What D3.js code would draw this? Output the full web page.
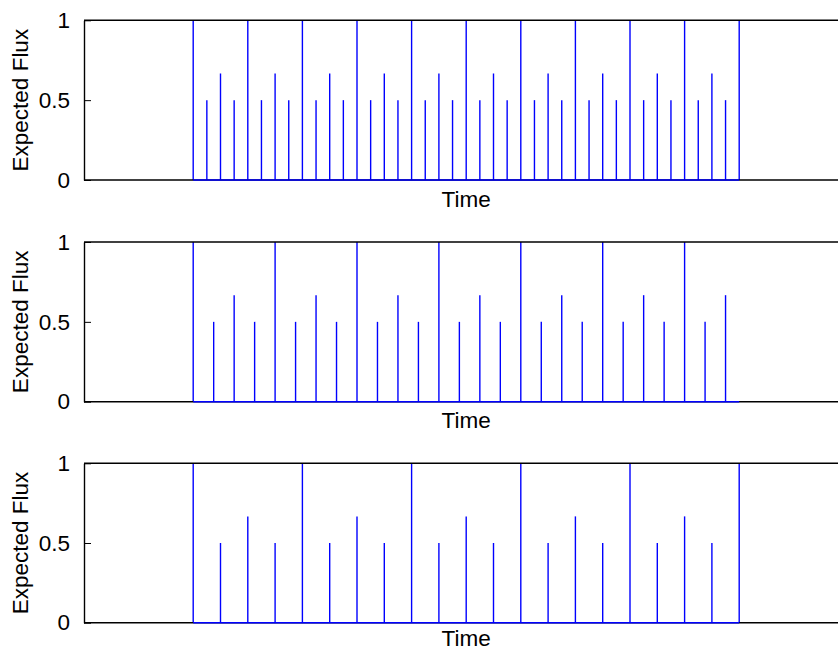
<!DOCTYPE html>
<html>
<head>
<meta charset="utf-8">
<script src="https://cdn.jsdelivr.net/npm/d3@7"></script>
<style>
  html, body { margin: 0; padding: 0; background: #fff; }
  svg { display: block; }
  text { font-family: "Liberation Sans", Arial, Helvetica, sans-serif; fill: #000; }
</style>
</head>
<body>
<svg id="chart" width="838" height="651"></svg>
<script>
// ---- data ----
const times1 = [8,9,10,11,12,13,14,15,16,17,18,19,20,21,22,23,24,25,26,27,28,29,30,31,32,33,34,35,36,37,38,39,40,41,42,43,44,45,46,47,48];
const flux1  = [1,0.5,0.667,0.5, 1,0.5,0.667,0.5, 1,0.5,0.667,0.5, 1,0.5,0.667,0.5, 1,0.5,0.667,0.5,
                1,0.5,0.667,0.5, 1,0.5,0.667,0.5, 1,0.5,0.667,0.5, 1,0.5,0.667,0.5, 1,0.5,0.667,0.5, 1];
const times2 = [8,9.5,11,12.5,14,15.5,17,18.5,20,21.5,23,24.5,26,27.5,29,30.5,32,33.5,35,36.5,38,39.5,41,42.5,44,45.5,47];
const flux2  = [1,0.5,0.667,0.5, 1,0.5,0.667,0.5, 1,0.5,0.667,0.5, 1,0.5,0.667,0.5, 1,0.5,0.667,0.5,
                1,0.5,0.667,0.5, 1,0.5,0.667];
const times3 = [8,10,12,14,16,18,20,22,24,26,28,30,32,34,36,38,40,42,44,46,48];
const flux3  = [1,0.5,0.667,0.5, 1,0.5,0.667,0.5, 1,0.5,0.667,0.5, 1,0.5,0.667,0.5, 1,0.5,0.667,0.5, 1];
const baselineRange = [8, 48];
const xDomain = [0, 56];
const yDomain = [0, 1];
const yTicks = [0, 0.5, 1];
const yTickLabels = ["0", "0.5", "1"];
const xLabel = "Time";
const yLabel = "Expected Flux";

const panels = [
  { times: times1, flux: flux1, top: 20.3, bottom: 180 },
  { times: times2, flux: flux2, top: 242, bottom: 401.7 },
  { times: times3, flux: flux3, top: 463.3, bottom: 622.7 }
];

// ---- drawing ----
const svg = d3.select("#chart");
const H = 651;
const left = 84;
const x = d3.scaleLinear().domain(xDomain).range([left, left + 56 * 13.65]);
const blue = "#0000ff";
const fontSize = 22.5;

panels.forEach(p => {
  const y = d3.scaleLinear().domain(yDomain).range([p.bottom, p.top]);
  const g = svg.append("g");

  // stems
  g.selectAll("line.stem")
    .data(p.times.map((t, i) => ({ t, v: p.flux[i] })))
    .enter().append("line")
    .attr("class", "stem")
    .attr("x1", d => x(d.t)).attr("x2", d => x(d.t))
    .attr("y1", y(0)).attr("y2", d => y(d.v))
    .attr("stroke", blue).attr("stroke-width", 1.4);

  // axes box: top line, bottom axis
  const x0 = x.range()[0], x1 = x.range()[1];
  g.append("line").attr("x1", x0).attr("x2", x1).attr("y1", y(1)).attr("y2", y(1))
    .attr("stroke", "#000").attr("stroke-width", 1.4);
  g.append("line").attr("x1", x0).attr("x2", x1).attr("y1", y(0)).attr("y2", y(0))
    .attr("stroke", "#000").attr("stroke-width", 1.4);

  // stem baseline
  g.append("line")
    .attr("x1", x(baselineRange[0])).attr("x2", x(baselineRange[1]))
    .attr("y1", y(0)).attr("y2", y(0))
    .attr("stroke", blue).attr("stroke-width", 1.5);

  // y axis with inward ticks
  const yAxis = d3.axisLeft(y).tickValues(yTicks)
    .tickFormat((d, i) => yTickLabels[i])
    .tickSizeInner(-7).tickSizeOuter(0).tickPadding(14);
  const ya = g.append("g").attr("transform", `translate(${x0},0)`).call(yAxis);
  ya.select(".domain").attr("stroke", "#000").attr("stroke-width", 1.4);
  ya.selectAll(".tick line").attr("stroke", "#000").attr("stroke-width", 1);
  ya.selectAll(".tick text")
    .style("font-size", fontSize + "px")
    .style("font-family", '"Liberation Sans", Arial, sans-serif')
    .attr("fill", "#000");

  // x label (kept fully inside the picture)
  const labelY = Math.min(p.bottom + 26.5, H - fontSize * 0.23);
  g.append("text")
    .attr("x", (x0 + x1) / 2).attr("y", labelY)
    .attr("text-anchor", "middle")
    .style("font-size", fontSize + "px")
    .text(xLabel);

  // y label
  g.append("text")
    .attr("transform", `translate(28,${(p.top + p.bottom) / 2}) rotate(-90)`)
    .attr("text-anchor", "middle")
    .style("font-size", fontSize + "px")
    .text(yLabel);
});
</script>
</body>
</html>
